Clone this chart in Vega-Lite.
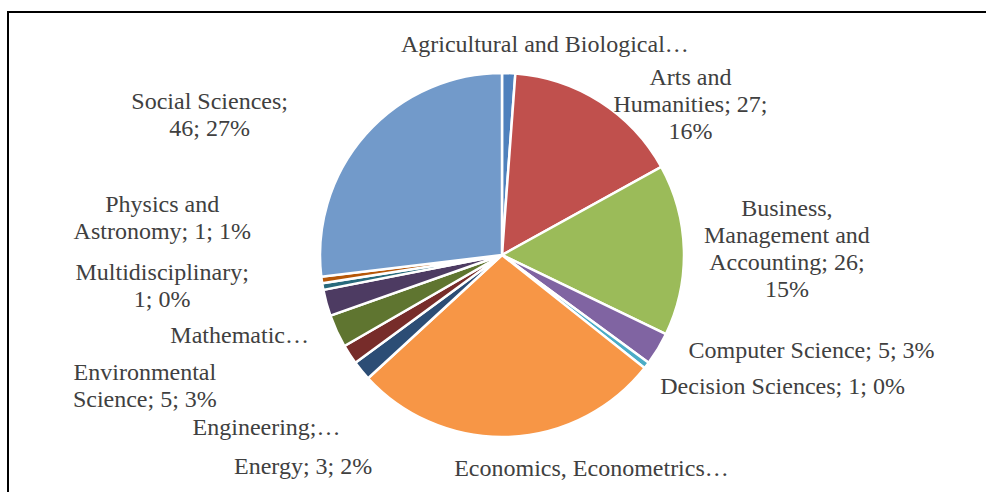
{
  "$schema": "https://vega.github.io/schema/vega-lite/v6.json",
  "width": 988,
  "height": 486,
  "autosize": "none",
  "padding": {"left": 8, "top": 12, "right": 0, "bottom": 0},
  "background": "white",
  "view": {"stroke": "#000000", "strokeWidth": 2},
  "config": {"view": {"stroke": "#000000", "strokeWidth": 2}, "text": {"font": "Liberation Serif, Times New Roman, serif", "fontSize": 24, "lineHeight": 27, "color": "#404040", "align": "center", "baseline": "middle"}},
  "data": {
    "values": [
      {"cat": "Agricultural and Biological Sciences", "n": 2, "label": "Agricultural and Biological…"},
      {"cat": "Arts and Humanities", "n": 27, "label": "Arts and\nHumanities; 27;\n16%"},
      {"cat": "Business, Management and Accounting", "n": 26, "label": "Business,\nManagement and\nAccounting; 26;\n15%"},
      {"cat": "Computer Science", "n": 5, "label": "Computer Science; 5; 3%"},
      {"cat": "Decision Sciences", "n": 1, "label": "Decision Sciences; 1; 0%"},
      {"cat": "Economics, Econometrics and Finance", "n": 47, "label": "Economics, Econometrics…"},
      {"cat": "Energy", "n": 3, "label": "Energy; 3; 2%"},
      {"cat": "Engineering", "n": 3, "label": "Engineering;…"},
      {"cat": "Environmental Science", "n": 5, "label": "Environmental\nScience; 5; 3%"},
      {"cat": "Mathematics", "n": 4, "label": "Mathematic…"},
      {"cat": "Multidisciplinary", "n": 1, "label": "Multidisciplinary;\n1; 0%"},
      {"cat": "Physics and Astronomy", "n": 1, "label": "Physics and\nAstronomy; 1; 1%"},
      {"cat": "Social Sciences", "n": 46, "label": "Social Sciences;\n46; 27%"}
    ]
  },
  "encoding": {
    "theta": {"field": "n", "type": "quantitative", "stack": true}
  },
  "layer": [
    {
      "mark": {"type": "arc", "radius": 182, "stroke": "#ffffff", "strokeWidth": 2.5},
      "encoding": {
        "color": {
          "field": "cat",
          "type": "nominal",
          "legend": null,
          "scale": {
            "domain": ["Agricultural and Biological Sciences", "Arts and Humanities", "Business, Management and Accounting", "Computer Science", "Decision Sciences", "Economics, Econometrics and Finance", "Energy", "Engineering", "Environmental Science", "Mathematics", "Multidisciplinary", "Physics and Astronomy", "Social Sciences"],
            "range": ["#4F81BD", "#C0504D", "#9BBB59", "#8064A2", "#4BACC6", "#F79646", "#2C4D75", "#772C2A", "#5F7530", "#4D3B62", "#276A7C", "#B65708", "#729ACA"]
          }
        }
      }
    },
    {
      "mark": {"type": "text", "radius": 214, "dx": 35, "dy": 4, "lineBreak": "\n"},
      "encoding": {"detail": {"field": "cat"}, "text": {"condition": {"test": "datum.cat === 'Agricultural and Biological Sciences'", "field": "label"}, "value": ""}}
    },
    {
      "mark": {"type": "text", "radius": 242, "dx": 58, "dy": 27, "lineBreak": "\n"},
      "encoding": {"detail": {"field": "cat"}, "text": {"condition": {"test": "datum.cat === 'Arts and Humanities'", "field": "label"}, "value": ""}}
    },
    {
      "mark": {"type": "text", "radius": 285, "dx": 0, "dy": -38, "lineBreak": "\n"},
      "encoding": {"detail": {"field": "cat"}, "text": {"condition": {"test": "datum.cat === 'Business, Management and Accounting'", "field": "label"}, "value": ""}}
    },
    {
      "mark": {"type": "text", "radius": 324, "dx": 32, "dy": -71, "lineBreak": "\n"},
      "encoding": {"detail": {"field": "cat"}, "text": {"condition": {"test": "datum.cat === 'Computer Science'", "field": "label"}, "value": ""}}
    },
    {
      "mark": {"type": "text", "radius": 309, "dx": 35, "dy": -56, "lineBreak": "\n"},
      "encoding": {"detail": {"field": "cat"}, "text": {"condition": {"test": "datum.cat === 'Decision Sciences'", "field": "label"}, "value": ""}}
    },
    {
      "mark": {"type": "text", "radius": 231, "dx": 81, "dy": -17, "lineBreak": "\n"},
      "encoding": {"detail": {"field": "cat"}, "text": {"condition": {"test": "datum.cat === 'Economics, Econometrics and Finance'", "field": "label"}, "value": ""}}
    },
    {
      "mark": {"type": "text", "radius": 290, "dx": 25, "dy": 28, "lineBreak": "\n"},
      "encoding": {"detail": {"field": "cat"}, "text": {"condition": {"test": "datum.cat === 'Energy'", "field": "label"}, "value": ""}}
    },
    {
      "mark": {"type": "text", "radius": 292, "dx": 9, "dy": 13, "lineBreak": "\n"},
      "encoding": {"detail": {"field": "cat"}, "text": {"condition": {"test": "datum.cat === 'Engineering'", "field": "label"}, "value": ""}}
    },
    {
      "mark": {"type": "text", "radius": 380, "dx": -12, "dy": -41, "lineBreak": "\n"},
      "encoding": {"detail": {"field": "cat"}, "text": {"condition": {"test": "datum.cat === 'Environmental Science'", "field": "label"}, "value": ""}}
    },
    {
      "mark": {"type": "text", "radius": 274, "dx": 2, "dy": 9, "lineBreak": "\n"},
      "encoding": {"detail": {"field": "cat"}, "text": {"condition": {"test": "datum.cat === 'Mathematics'", "field": "label"}, "value": ""}}
    },
    {
      "mark": {"type": "text", "radius": 341, "dx": -4, "dy": -41, "lineBreak": "\n"},
      "encoding": {"detail": {"field": "cat"}, "text": {"condition": {"test": "datum.cat === 'Multidisciplinary'", "field": "label"}, "value": ""}}
    },
    {
      "mark": {"type": "text", "radius": 342, "dx": -1, "dy": -97, "lineBreak": "\n"},
      "encoding": {"detail": {"field": "cat"}, "text": {"condition": {"test": "datum.cat === 'Physics and Astronomy'", "field": "label"}, "value": ""}}
    },
    {
      "mark": {"type": "text", "radius": 324, "dx": -50, "dy": 62, "lineBreak": "\n"},
      "encoding": {"detail": {"field": "cat"}, "text": {"condition": {"test": "datum.cat === 'Social Sciences'", "field": "label"}, "value": ""}}
    }
  ]
}
